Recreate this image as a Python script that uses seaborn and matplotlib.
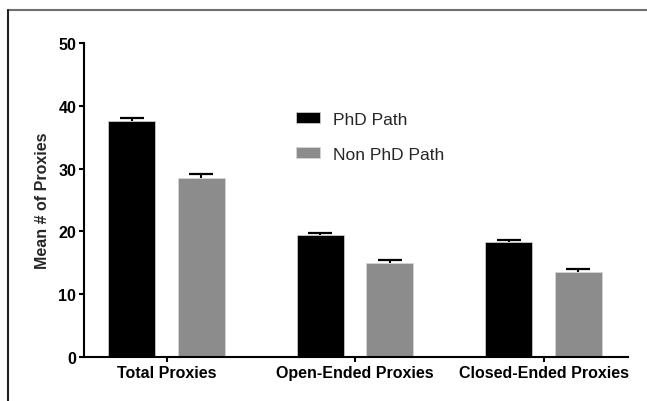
import matplotlib
matplotlib.use("Agg")
import matplotlib.pyplot as plt
from matplotlib.lines import Line2D
import numpy as np
import pandas as pd
import seaborn as sns

# Mean number of proxies per category, with standard errors
categories = ["Total Proxies", "Open-Ended Proxies", "Closed-Ended Proxies"]
groups = ["PhD Path", "Non PhD Path"]
phd_means = [37.6, 19.4, 18.3]
phd_sem = [0.45, 0.4, 0.35]
nonphd_means = [28.5, 14.9, 13.5]
nonphd_sem = [0.7, 0.5, 0.55]
y_ticks = [0, 10, 20, 30, 40, 50]

df = pd.DataFrame({
    "category": categories * 2,
    "group": [groups[0]] * 3 + [groups[1]] * 3,
    "mean": phd_means + nonphd_means,
})
sems = {groups[0]: phd_sem, groups[1]: nonphd_sem}

sns.set_theme(style="ticks")
plt.rcParams["font.family"] = ["Liberation Sans", "DejaVu Sans"]

fig = plt.figure(figsize=(6.47, 4.02), dpi=100)
ax = fig.add_axes([84 / 647, 44 / 402, (628 - 84) / 647, (358 - 44) / 402])

palette = {groups[0]: "#000000", groups[1]: "#8c8c8c"}
sns.barplot(data=df, x="category", y="mean", hue="group", order=categories,
            hue_order=groups, palette=palette, width=0.734, gap=0.32,
            errorbar=None, saturation=1, edgecolor="#d8d8d8", linewidth=0.5,
            ax=ax)

# upward-only error bars on each bar
for container, grp in zip(ax.containers, groups):
    xs = [p.get_x() + p.get_width() / 2 for p in container.patches]
    hs = [p.get_height() for p in container.patches]
    err = sems[grp]
    _, caps, _ = ax.errorbar(xs, hs, yerr=[np.zeros(len(err)), err],
                             fmt="none", ecolor="black", elinewidth=1.5,
                             capsize=8.6, capthick=1.6, zorder=3)
    caps[0].set_visible(False)

ax.set_xlim(-0.438, 2.448)
ax.set_ylim(0, 50)
ax.set_yticks(y_ticks)
ax.set_xlabel("")
ax.set_ylabel("Mean # of Proxies", fontsize=11.5, fontweight="bold", labelpad=6)
for lab in ax.get_xticklabels() + ax.get_yticklabels():
    lab.set_fontweight("bold")
    lab.set_fontsize(11.5)
ax.tick_params(axis="both", direction="out", length=3.6, width=1.5,
               colors="black", pad=2)
for side in ("left", "bottom"):
    ax.spines[side].set_linewidth(1.5)
    ax.spines[side].set_color("black")
sns.despine(ax=ax)

handles, labels = ax.get_legend_handles_labels()
ax.legend(handles, labels, loc="upper left",
          bbox_to_anchor=(296 / 647, 1 - 113 / 402),
          bbox_transform=fig.transFigure, frameon=False, fontsize=12.5,
          handlelength=1.4, handleheight=0.6, handletextpad=0.75,
          labelspacing=1.15, borderaxespad=0, borderpad=0)

# figure border on top and left edges
fig.add_artist(Line2D([8 / 647, 1.0], [1 - 11 / 402, 1 - 11 / 402],
                      transform=fig.transFigure, color="#6f6f6f", lw=1.5))
fig.add_artist(Line2D([8 / 647, 8 / 647], [0, 1 - 11 / 402],
                      transform=fig.transFigure, color="#222222", lw=1.5))

fig.savefig("out.png", dpi=100)
